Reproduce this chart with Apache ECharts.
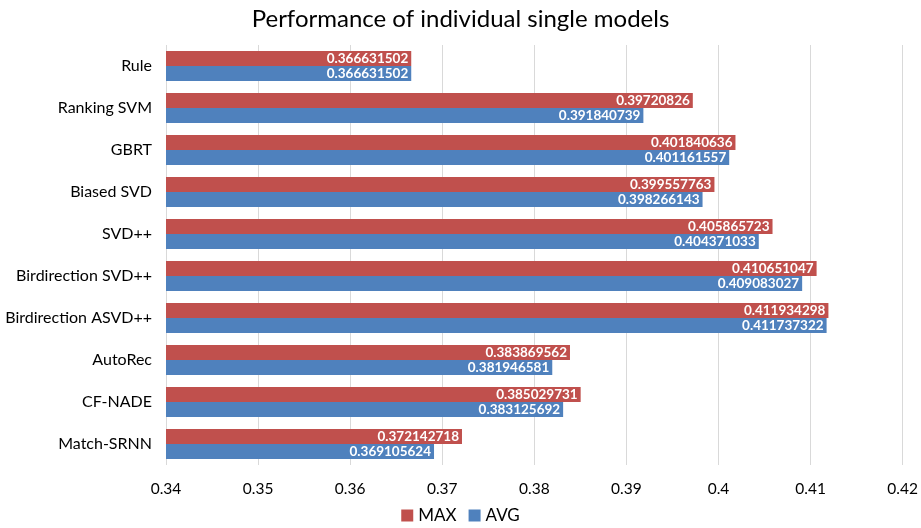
<!DOCTYPE html>
<html><head><meta charset="utf-8">
<script src="https://cdn.jsdelivr.net/npm/echarts@6/dist/echarts.min.js"></script>
<style>html,body{margin:0;padding:0;background:#fff}#c{width:921px;height:528px}</style>
</head><body><div id="c"></div>
<script>
const categories = ["Rule","Ranking SVM","GBRT","Biased SVD","SVD++","Birdirection SVD++","Birdirection ASVD++","AutoRec","CF-NADE","Match-SRNN"];
const maxValues = [0.366631502,0.39720826,0.401840636,0.399557763,0.405865723,0.410651047,0.411934298,0.383869562,0.385029731,0.372142718];
const avgValues = [0.366631502,0.391840739,0.401161557,0.398266143,0.404371033,0.409083027,0.411737322,0.381946581,0.383125692,0.369105624];
const xTicks = [0.34,0.35,0.36,0.37,0.38,0.39,0.4,0.41,0.42];
const font = "Lato, 'Open Sans', sans-serif";
const chart = echarts.init(document.getElementById('c'));
const lbl = {show:true, position:'insideRight', color:'#fff', fontSize:13.5, fontWeight:'bold', fontFamily:font, distance:3, formatter:p=>String(p.value)};
chart.setOption({
  animation:false,
  title:{text:'Performance of individual single models', left:'center', top:2, textStyle:{fontFamily:font, fontSize:24, fontWeight:'normal', color:'#000'}},
  legend:{bottom:-1, left:'center', itemWidth:12, itemHeight:12, itemGap:12, icon:'rect', textStyle:{fontFamily:font, fontSize:17, color:'#000'}, data:['MAX','AVG']},
  grid:{left:166, right:18, top:45, bottom:63, containLabel:false},
  xAxis:{type:'value', min:xTicks[0], max:xTicks[xTicks.length-1], interval:0.01,
    axisLine:{show:false}, axisTick:{show:false},
    axisLabel:{fontFamily:font, fontSize:15.5, color:'#000', margin:16, formatter:v=>String(+v.toFixed(2))},
    splitLine:{show:true, lineStyle:{color:'#d9d9d9', width:1}}},
  yAxis:{type:'category', data:categories, inverse:true,
    axisLine:{show:false}, axisTick:{show:false},
    axisLabel:{fontFamily:font, fontSize:16, color:'#000', margin:14}},
  series:[
    {name:'MAX', type:'bar', data:maxValues, itemStyle:{color:'#C0504D'}, barGap:'0%', barCategoryGap:'28%', label:lbl},
    {name:'AVG', type:'bar', data:avgValues, itemStyle:{color:'#4F81BD'}, barGap:'0%', barCategoryGap:'28%', label:lbl}
  ]
});
</script></body></html>
